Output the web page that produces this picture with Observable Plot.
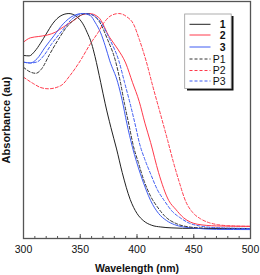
<!DOCTYPE html>
<html>
<head>
<meta charset="utf-8">
<script src="https://cdn.jsdelivr.net/npm/d3@7"></script>
<script src="https://cdn.jsdelivr.net/npm/@observablehq/plot@0.6"></script>
<style>
  html, body { margin: 0; padding: 0; background: #fff; }
  svg { font-family: "Liberation Sans", Arial, sans-serif; }
</style>
</head>
<body>
<div id="chart"></div>
<script>
// Series labels
const seriesNames = ["1", "2", "3", "P1", "P2", "P3"];

// Wavelengths (nm) and normalized absorbance
const nm1  = [300, 305, 310, 315, 320, 326, 333, 340, 347, 352, 356, 360, 363, 368, 372, 377, 382, 387, 394, 400, 406, 413, 421, 430, 440, 460, 500];
const abs1 = [0.805, 0.803, 0.825, 0.862, 0.905, 0.955, 0.99, 1.0, 0.985, 0.955, 0.913, 0.86, 0.80, 0.68, 0.58, 0.47, 0.37, 0.26, 0.135, 0.07, 0.035, 0.015, 0.007, 0.003, 0.001, 0, 0];

const nm2  = [300, 306, 313, 321, 328, 335, 344, 352, 358, 366, 376, 383, 390, 396, 402, 407, 412, 419, 428, 434, 441, 447, 453, 470, 500];
const abs2 = [0.867, 0.887, 0.893, 0.9, 0.913, 0.937, 0.967, 0.995, 1.0, 0.983, 0.888, 0.835, 0.77, 0.68, 0.59, 0.49, 0.40, 0.26, 0.13, 0.09, 0.05, 0.03, 0.02, 0.012, 0.01];

const nm3  = [300, 306, 312, 319, 327, 335, 344, 352, 359, 363, 368, 372, 376, 383, 387, 391, 396, 403, 408, 412, 419, 426, 433, 440, 450, 470, 500];
const abs3 = [0.774, 0.77, 0.79, 0.843, 0.898, 0.952, 0.99, 1.0, 0.99, 0.96, 0.91, 0.85, 0.78, 0.68, 0.595, 0.49, 0.378, 0.254, 0.18, 0.13, 0.07, 0.037, 0.018, 0.008, 0.002, -0.004, -0.005];

const nmP1  = [300, 306, 311, 316, 323, 331, 338, 346, 355, 360, 368, 374, 381, 385, 389, 393, 397, 401, 406, 412, 418, 425, 435, 445, 460, 500];
const absP1 = [0.75, 0.728, 0.722, 0.743, 0.81, 0.882, 0.937, 0.976, 1.0, 0.995, 0.952, 0.88, 0.78, 0.69, 0.58, 0.48, 0.38, 0.31, 0.225, 0.15, 0.1, 0.055, 0.022, 0.008, 0.002, 0];

const nmP2  = [300, 309, 315, 322, 333, 341, 350, 359, 366, 371, 377, 384, 391, 397, 402, 408, 414, 421, 427, 432, 437, 443, 449, 456, 463, 471, 480, 500];
const absP2 = [0.704, 0.673, 0.656, 0.65, 0.665, 0.712, 0.78, 0.86, 0.914, 0.958, 0.99, 1.0, 0.985, 0.95, 0.88, 0.78, 0.66, 0.526, 0.41, 0.31, 0.22, 0.125, 0.075, 0.045, 0.028, 0.018, 0.013, 0.01];

const nmP3  = [300, 306, 312, 318, 325, 334, 343, 353, 360, 368, 376, 384, 389, 394, 399, 402, 407, 412, 418, 424, 431, 438, 446, 455, 470, 500];
const absP3 = [0.774, 0.77, 0.775, 0.805, 0.86, 0.92, 0.976, 1.0, 0.995, 0.96, 0.88, 0.78, 0.68, 0.58, 0.47, 0.40, 0.32, 0.254, 0.18, 0.13, 0.08, 0.05, 0.025, 0.012, 0.004, 0];

// Axis ticks
const majorTicks = [300, 350, 400, 450, 500];
const minorTicks = d3.range(300, 501, 10);

const seriesX = [nm1, nm2, nm3, nmP1, nmP2, nmP3];
const seriesY = [abs1, abs2, abs3, absP1, absP2, absP3];
const colors = ["#222222", "#ff3a4c", "#3f5cf2", "#333333", "#ff3a4c", "#3f5cf2"];
const dashed = [false, false, false, true, true, true];
const bold = [true, true, true, false, false, false];

const rows = seriesNames.map((name, i) => seriesX[i].map((x, j) => ({series: name, nm: x, A: seriesY[i][j]})));

const lineMarks = rows.map((data, i) => Plot.line(data, {
  x: "nm", y: "A", stroke: colors[i], strokeWidth: 1,
  strokeDasharray: dashed[i] ? "3,2" : null, curve: "monotone-x"
}));

const chart = Plot.plot({
  width: 260,
  height: 275,
  marginLeft: 23,
  marginRight: 10,
  marginTop: 1,
  marginBottom: 37,
  style: {fontFamily: "Liberation Sans, Arial, sans-serif", background: "#fff"},
  x: {domain: [300, 500], label: null},
  y: {domain: [-0.0465, 1.056], axis: null},
  marks: [
    ...lineMarks,
    Plot.frame({stroke: "#555", strokeWidth: 1.3}),
    Plot.axisX(minorTicks, {tickSize: -2, text: null, stroke: "#555", label: null}),
    Plot.axisX(majorTicks, {tickSize: -4, text: null, stroke: "#555", label: null}),
    Plot.axisX(majorTicks, {tickSize: 0, tickPadding: 7, fontSize: 10.5, fill: "#111", label: null}),
    Plot.text(["Wavelength (nm)"], {frameAnchor: "bottom", dy: 33, fontWeight: "bold", fontSize: 10.5, fill: "#111", textAnchor: "middle"}),
    Plot.text(["Absorbance (au)"], {frameAnchor: "left", rotate: -90, dx: -17, fontWeight: "bold", fontSize: 11, fill: "#111", textAnchor: "middle", lineAnchor: "middle"})
  ]
});

// Legend box with drop shadow
const svg = d3.select(chart);
const lg = svg.append("g");
lg.append("rect").attr("x", 187).attr("y", 16).attr("width", 46.5).attr("height", 74.5).attr("fill", "#111");
lg.append("rect").attr("x", 184.7).attr("y", 14).attr("width", 46.5).attr("height", 74.5).attr("fill", "#fff").attr("stroke", "#999").attr("stroke-width", 0.8);
const rowY = [24.3, 35, 47, 59, 70.5, 81];
seriesNames.forEach((name, i) => {
  lg.append("line").attr("x1", 189.5).attr("x2", 210.5).attr("y1", rowY[i]).attr("y2", rowY[i])
    .attr("stroke", colors[i]).attr("stroke-width", 1)
    .attr("stroke-dasharray", dashed[i] ? "3,2" : null);
  lg.append("text").attr("x", 225.7).attr("y", rowY[i]).attr("dy", "0.36em")
    .attr("text-anchor", "end").attr("font-size", 10.5)
    .attr("font-weight", bold[i] ? "bold" : "normal").attr("fill", "#111").text(name);
});

document.getElementById("chart").appendChild(chart);
</script>
</body>
</html>
